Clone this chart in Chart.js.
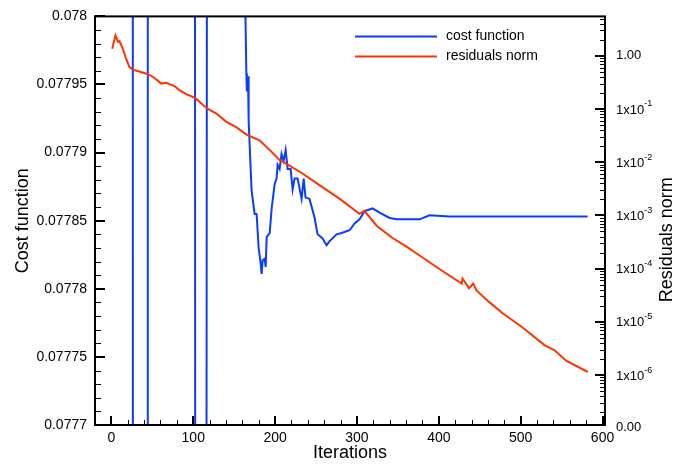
<!DOCTYPE html>
<html>
<head>
<meta charset="utf-8">
<script src="https://cdn.jsdelivr.net/npm/chart.js@4.4.0/dist/chart.umd.min.js"></script>
<style>
html, body { margin: 0; padding: 0; background: #fff; }
</style>
</head>
<body>
<canvas id="grafico" width="676" height="470"></canvas>
<script>
// cost function (left axis); values out of range leave the plot area
var costIter = [1, 26, 26.5, 44, 44.5, 101.5, 103, 115, 117.5, 163,
  164.9, 165.5, 166.9, 167.7, 171.3, 175, 177.4, 179.9, 182.3, 183.5, 184.8, 187.2, 188.5, 189.7,
  193.4, 195.8, 199.5, 201.8, 203.1, 205.5, 207.9, 210.4, 212.9, 215.3, 219, 221.4, 223.8, 227.5,
  232.4, 234.9, 237.2, 242.1, 248.3, 251.9, 258, 262.9, 266.6, 275.1, 281.2, 291, 297.1, 303.2,
  309.3, 319.1, 327.7, 339.9, 348.4, 364.3, 376.5, 388.6, 413.1, 581.7];
var costValues = [0.0790, 0.0790, 0.0765, 0.0765, 0.0790, 0.0790, 0.0768, 0.0768, 0.0786, 0.07803,
  0.077958, 0.077945, 0.077956, 0.077923, 0.077872, 0.077855, 0.077855, 0.07783, 0.077819, 0.077811, 0.077821, 0.077822, 0.077816, 0.077838,
  0.077841, 0.077859, 0.077877, 0.077881, 0.077891, 0.077888, 0.077899, 0.077894, 0.077902, 0.077888, 0.077888, 0.077873, 0.077881, 0.077881,
  0.077866, 0.077881, 0.077867, 0.077866, 0.077852, 0.07784, 0.077837, 0.077832, 0.077835, 0.07784, 0.077841, 0.077843, 0.077848, 0.077851,
  0.077857, 0.077859, 0.077856, 0.077852, 0.077851, 0.077851, 0.077851, 0.077854, 0.077853, 0.077853];

// residuals norm (right axis, log)
var resIter = [1, 5, 8, 10, 14, 18, 22, 26, 35, 45, 51, 61, 67, 77, 83, 92, 102, 112, 120, 128,
  140, 153, 165, 181, 193, 205, 209, 233, 251, 279, 303, 309, 324, 343, 361, 368, 389, 409,
  428, 429, 437, 442, 446, 462, 478, 502, 529, 541, 556, 582];
var resValues = [1.35, 2.42, 1.82, 1.89, 1.35, 0.88, 0.62, 0.55, 0.50, 0.45, 0.40, 0.30, 0.31, 0.27, 0.227, 0.188, 0.163, 0.119, 0.096, 0.083,
  0.058, 0.045, 0.033, 0.0257, 0.0172, 0.0112, 0.0104, 0.0062, 0.0040, 0.00204, 0.00107, 0.00122, 0.00064, 0.00038, 0.000257, 0.000217, 0.00013, 8.1e-5,
  5.25e-5, 6.5e-5, 4.25e-5, 5.25e-5, 3.9e-5, 2.32e-5, 1.45e-5, 7.9e-6, 3.65e-6, 2.95e-6, 1.84e-6, 1.14e-6];

var iterTicks = [0, 100, 200, 300, 400, 500, 600];
var costTicks = [0.0777, 0.07775, 0.0778, 0.07785, 0.0779, 0.07795, 0.078];
var resTicks = [1e-6, 1e-5, 1e-4, 1e-3, 1e-2, 1e-1, 1];
var resTickExp = ['-6', '-5', '-4', '-3', '-2', '-1', ''];
var resMin = 1.15e-7, resMax = 5.5;

var fuente = '"Liberation Sans", Arial, Helvetica, sans-serif';
Chart.defaults.font.family = fuente;
Chart.defaults.color = '#000';

function puntos(xs, ys) {
  return xs.map(function (x, i) { return { x: x, y: ys[i] }; });
}

// box, inward ticks, right labels, legend
var marco = {
  id: 'marco',
  afterDatasetsDraw: function (chart) {
    var c = chart.ctx, a = chart.chartArea;
    var sx = chart.scales.x, sy = chart.scales.y, sr = chart.scales.y1;
    c.save();
    c.strokeStyle = '#000';

    function tick(x1, y1, x2, y2, w) {
      c.lineWidth = w;
      c.beginPath(); c.moveTo(x1, y1); c.lineTo(x2, y2); c.stroke();
    }
    var v, p, i, k, n;
    for (v = 0; v <= 600; v += 20) {
      p = Math.round(sx.getPixelForValue(v));
      if (v % 100 === 0) tick(p, a.bottom, p, a.bottom - 9, 2);
      else tick(p + 0.5, a.bottom, p + 0.5, a.bottom - 5, 1);
    }
    for (i = 0; i <= 30; i++) {
      p = Math.round(sy.getPixelForValue((7770 + i) / 100000));
      if (i % 5 === 0) tick(a.left, p, a.left + 10, p, 2);
      else tick(a.left, p + 0.5, a.left + 6, p + 0.5, 1);
    }
    for (n = -7; n <= 0; n++) {
      for (k = 1; k <= 9; k++) {
        v = k * Math.pow(10, n);
        if (v < resMin || v > resMax) continue;
        p = Math.round(sr.getPixelForValue(v));
        if (k === 1) tick(a.right, p, a.right - 10, p, 2);
        else tick(a.right, p + 0.5, a.right - 5, p + 0.5, 1);
      }
    }
    c.lineWidth = 2;
    c.strokeRect(a.left, a.top, a.right - a.left, a.bottom - a.top);

    // right axis labels with superscripts
    c.fillStyle = '#000';
    c.textBaseline = 'middle';
    c.textAlign = 'left';
    var lx = a.right + 11;
    resTicks.forEach(function (t, j) {
      var py = sr.getPixelForValue(t);
      c.font = '13px ' + fuente;
      if (resTickExp[j] === '') {
        c.fillText('1.00', lx, py);
      } else {
        c.fillText('1x10', lx, py + 1);
        var w = c.measureText('1x10').width;
        c.font = '9px ' + fuente;
        c.fillText(resTickExp[j], lx + w, py - 5);
      }
    });
    c.font = '13px ' + fuente;
    c.fillText('0.00', lx, sr.getPixelForValue(resMin) + 2);

    // right axis title
    c.save();
    c.translate(a.right + 62, (a.top + a.bottom) / 2 + 19);
    c.rotate(-Math.PI / 2);
    c.textAlign = 'center';
    c.font = '18px ' + fuente;
    c.fillText('Residuals norm', 0, 0);
    c.restore();

    // legend
    c.font = '14px ' + fuente;
    chart.data.datasets.forEach(function (ds, j) {
      var ly = a.top + 20 + j * 20;
      c.strokeStyle = ds.borderColor;
      c.lineWidth = 2;
      c.beginPath(); c.moveTo(a.left + 260, ly); c.lineTo(a.left + 342, ly); c.stroke();
      c.fillStyle = '#000';
      c.fillText(ds.label, a.left + 351, ly);
    });
    c.restore();
  }
};

new Chart(document.getElementById('grafico').getContext('2d'), {
  type: 'line',
  data: {
    datasets: [
      { label: 'cost function', data: puntos(costIter, costValues), yAxisID: 'y',
        borderColor: '#0a3cff', borderWidth: 2, pointRadius: 0, tension: 0, order: 1 },
      { label: 'residuals norm', data: puntos(resIter, resValues), yAxisID: 'y1',
        borderColor: '#ff3300', borderWidth: 2, pointRadius: 0, tension: 0, order: 0 }
    ]
  },
  options: {
    responsive: false,
    animation: false,
    devicePixelRatio: 1,
    layout: { padding: { top: 14, left: 0, right: 0, bottom: 0 } },
    plugins: { legend: { display: false }, tooltip: { enabled: false } },
    scales: {
      x: {
        type: 'linear', min: -20, max: 603,
        afterBuildTicks: function (s) { s.ticks = iterTicks.map(function (v) { return { value: v }; }); },
        afterFit: function (s) { s.height = 45; },
        grid: { display: false, drawTicks: false },
        border: { display: false },
        ticks: { autoSkip: false, maxRotation: 0, padding: 5, font: { size: 14 },
          callback: function (v) { return String(v); } },
        title: { display: true, text: 'Iterations', font: { size: 18 }, padding: { top: 0, bottom: 6 } }
      },
      y: {
        position: 'left', min: 0.0777, max: 0.078,
        afterBuildTicks: function (s) { s.ticks = costTicks.map(function (v) { return { value: v }; }); },
        afterFit: function (s) { s.width = 95; },
        grid: { display: false, drawTicks: false },
        border: { display: false },
        ticks: { autoSkip: false, padding: 8, font: { size: 14 },
          callback: function (v) { return String(Number(v.toFixed(5))); } },
        title: { display: true, text: 'Cost function', font: { size: 18 }, padding: { top: 12 } }
      },
      y1: {
        type: 'logarithmic', position: 'right', min: resMin, max: resMax,
        afterFit: function (s) { s.width = 71; },
        grid: { display: false, drawTicks: false },
        border: { display: false },
        ticks: { display: false }
      }
    }
  },
  plugins: [marco]
});
</script>
</body>
</html>
